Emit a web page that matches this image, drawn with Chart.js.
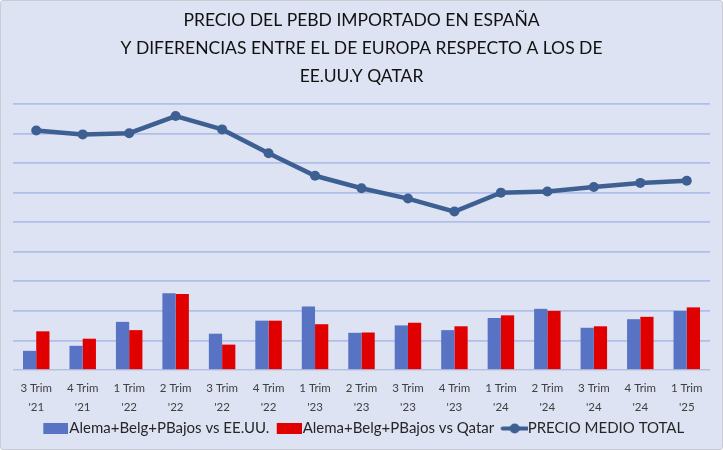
<!DOCTYPE html>
<html><head><meta charset="utf-8">
<script src="https://cdn.jsdelivr.net/npm/chart.js@4.4.1/dist/chart.umd.min.js"></script>
<style>
html,body{margin:0;padding:0;background:#ffffff;}
#wrap{position:absolute;left:0;top:0;width:721px;height:448px;background:#dde3f3;border:1px solid #c9ccd4;border-radius:3px;}
canvas{display:block;}
</style></head>
<body>
<div id="wrap"><canvas id="c" width="721" height="448"></canvas></div>
<script>
const categories = [["3 Trim","'21"],["4 Trim","'21"],["1 Trim","'22"],["2 Trim","'22"],["3 Trim","'22"],["4 Trim","'22"],["1 Trim","'23"],["2 Trim","'23"],["3 Trim","'23"],["4 Trim","'23"],["1 Trim","'24"],["2 Trim","'24"],["3 Trim","'24"],["4 Trim","'24"],["1 Trim","'25"]];
const vsEEUU = [0.65,0.82,1.63,2.60,1.23,1.67,2.15,1.26,1.51,1.35,1.76,2.07,1.43,1.72,2.00];
const vsQatar = [1.31,1.06,1.35,2.57,0.86,1.67,1.55,1.27,1.60,1.48,1.85,2.00,1.48,1.80,2.12];
const precioMedio = [8.10,7.97,8.01,8.59,8.14,7.33,6.57,6.15,5.80,5.36,6.00,6.04,6.19,6.33,6.40];
const titleLines = ["PRECIO DEL PEBD IMPORTADO EN ESPAÑA","Y DIFERENCIAS ENTRE EL DE EUROPA RESPECTO A LOS DE","EE.UU.Y QATAR"];

const BLUE='#5873c4', RED='#e00000', LINE='#3e5f91';
const FONT='Lato, "Open Sans", sans-serif';

function boxImg(color){
  const c=document.createElement('canvas');c.width=36;c.height=11;
  const x=c.getContext('2d');x.fillStyle=color;x.fillRect(11,0,25,11);return c;
}
function lineImg(color){
  const c=document.createElement('canvas');c.width=38;c.height=11;
  const x=c.getContext('2d');x.strokeStyle=color;x.lineWidth=4;x.lineCap='round';
  x.beginPath();x.moveTo(13,5.5);x.lineTo(37,5.5);x.stroke();
  x.fillStyle=color;x.beginPath();x.arc(25,5.5,5,0,Math.PI*2);x.fill();return c;
}
const legendImgs=[boxImg(BLUE),boxImg(RED),lineImg(LINE)];

new Chart(document.getElementById('c'),{
  data:{
    labels:categories,
    datasets:[
      {type:'line',label:'PRECIO MEDIO TOTAL',data:precioMedio,borderColor:LINE,backgroundColor:LINE,borderWidth:4.5,pointRadius:5,pointBackgroundColor:LINE,pointBorderWidth:0,tension:0,order:0},
      {type:'bar',label:'Alema+Belg+PBajos vs EE.UU.',data:vsEEUU,backgroundColor:BLUE,categoryPercentage:0.57,barPercentage:1.0,order:1},
      {type:'bar',label:'Alema+Belg+PBajos vs Qatar',data:vsQatar,backgroundColor:RED,categoryPercentage:0.57,barPercentage:1.0,order:1}
    ]
  },
  options:{
    responsive:false,animation:false,
    layout:{padding:{left:12,right:12,top:0,bottom:3}},
    scales:{
      x:{grid:{display:false,drawTicks:false},border:{display:true,color:'#d0d4de'},
         afterFit:function(s){s.height-=8;},
         ticks:{color:'#404040',padding:9,font:{family:FONT,size:11.5,lineHeight:1.65},maxRotation:0,autoSkip:false}},
      y:{min:0,max:9,ticks:{display:false,stepSize:1},border:{display:false},
         grid:{color:'#b0bfe8',lineWidth:1.8,drawTicks:false}}
    },
    plugins:{
      title:{display:true,text:titleLines,color:'#111111',font:{family:FONT,size:17.5,weight:'normal',lineHeight:1.58},padding:{top:6,bottom:14}},
      legend:{position:'bottom',
        labels:{usePointStyle:true,pointStyleWidth:23,color:'#262626',font:{family:FONT,size:15},padding:3,
          generateLabels:function(chart){
            const order=[1,2,0];
            return order.map((di,i)=>({text:chart.data.datasets[di].label,pointStyle:legendImgs[i],datasetIndex:di,fontColor:'#262626',lineWidth:0,hidden:false}));
          }}},
      tooltip:{enabled:false}
    }
  }
});
</script>
</body></html>
